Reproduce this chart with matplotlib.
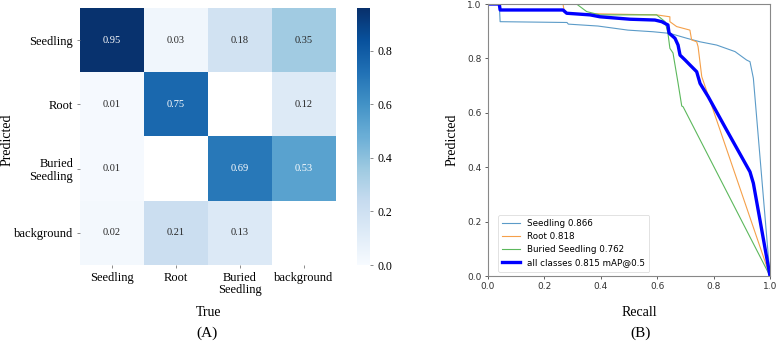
import numpy as np
import matplotlib
matplotlib.use("Agg")
import matplotlib.pyplot as plt

# ---------------- data ----------------
pred_labels = ["Seedling", "Root", "Buried\nSeedling", "background"]
true_labels = ["Seedling", "Root", "Buried\nSeedling", "background"]
row_seedling = [0.95, 0.03, 0.18, 0.35]
row_root = [0.01, 0.75, 0.00, 0.12]
row_buried = [0.01, 0.00, 0.69, 0.53]
row_background = [0.02, 0.21, 0.13, 0.00]

seedling_r = [0, 0.04, 0.043, 0.28, 0.285, 0.39, 0.496, 0.585, 0.645, 0.705, 0.752, 0.811, 0.876, 0.917, 0.929, 0.941, 1.0]
seedling_p = [1, 1, 0.935, 0.932, 0.926, 0.919, 0.904, 0.898, 0.892, 0.874, 0.861, 0.849, 0.825, 0.794, 0.788, 0.727, 0.0]
root_r = [0, 0.266, 0.27, 0.28, 0.598, 0.645, 0.645, 0.669, 0.716, 0.722, 0.74, 0.745, 0.758, 1.0]
root_p = [1, 1, 0.975, 0.966, 0.96, 0.953, 0.935, 0.917, 0.904, 0.868, 0.861, 0.843, 0.733, 0.0]
buried_r = [0, 0.314, 0.35, 0.397, 0.598, 0.628, 0.638, 0.645, 0.656, 0.674, 0.687, 0.692, 1.0]
buried_p = [1, 1, 0.972, 0.96, 0.96, 0.935, 0.893, 0.837, 0.82, 0.709, 0.625, 0.622, 0.0]
all_r = [0, 0.04, 0.043, 0.266, 0.279, 0.362, 0.397, 0.504, 0.592, 0.616, 0.638, 0.642, 0.663, 0.674,
         0.681, 0.699, 0.716, 0.74, 0.752, 0.781, 0.846, 0.929, 0.941, 1.0]
all_p = [1, 1, 0.978, 0.978, 0.966, 0.96, 0.953, 0.944, 0.941, 0.935, 0.923, 0.893, 0.874, 0.849,
         0.812, 0.794, 0.776, 0.751, 0.708, 0.659, 0.537, 0.383, 0.341, 0.0]
legend_labels = ["Seedling 0.866", "Root 0.818", "Buried Seedling 0.762", "all classes 0.815 mAP@0.5"]

serif = ["Liberation Serif", "DejaVu Serif"]
sans = ["DejaVu Sans"]

W, H = 779, 343
fig = plt.figure(figsize=(W / 100, H / 100), dpi=100)

def box(x0, y0, x1, y1):
    return [x0 / W, 1 - y1 / H, (x1 - x0) / W, (y1 - y0) / H]

# ---------------- (A) confusion matrix ----------------
ax1 = fig.add_axes(box(80, 8, 336, 265))
cax = fig.add_axes(box(357, 8, 370, 265))
mat = np.array([row_seedling, row_root, row_buried, row_background])
masked = np.ma.masked_less(mat, 0.005)
cmap = plt.get_cmap("Blues").copy()
cmap.set_bad("white")
vmax = 0.96
im = ax1.imshow(masked, cmap=cmap, vmin=0, vmax=vmax, aspect="auto", interpolation="nearest")
for i in range(mat.shape[0]):
    for j in range(mat.shape[1]):
        v = mat[i, j]
        if v >= 0.005:
            ax1.text(j, i, f"{v:.2f}", ha="center", va="center", fontsize=7.5,
                     family=serif, color="white" if v > 0.45 else "#262626")
ax1.set_xticks(range(len(true_labels)))
ax1.set_xticklabels(true_labels, family=serif, fontsize=9, linespacing=1.05)
ax1.set_yticks(range(len(pred_labels)))
ax1.set_yticklabels(pred_labels, family=serif, fontsize=9, linespacing=1.05)
ax1.tick_params(length=2, width=0.6, color="#777777", pad=3)
for s in ax1.spines.values():
    s.set_visible(False)
cb = fig.colorbar(im, cax=cax)
cb.set_ticks([0.0, 0.2, 0.4, 0.6, 0.8])
cb.ax.tick_params(length=2, width=0.6, color="#777777", labelsize=8.5)
for t in cb.ax.get_yticklabels():
    t.set_family(serif)
cb.outline.set_visible(False)

fig.text(209 / W, 1 - 313 / H, "True", ha="center", va="center", family=serif, fontsize=10)
fig.text(207 / W, 1 - 333 / H, "(A)", ha="center", va="center", family=serif, fontsize=11)
fig.text(7 / W, 1 - 140 / H, "Predicted", ha="center", va="center", rotation=90,
         family=serif, fontsize=10)

# ---------------- (B) PR curve ----------------
ax2 = fig.add_axes(box(488, 4, 770, 276))
ax2.plot(seedling_r, seedling_p, color="#5b9bc8", lw=0.8, label=legend_labels[0])
ax2.plot(root_r, root_p, color="#f5a04a", lw=0.8, label=legend_labels[1])
ax2.plot(buried_r, buried_p, color="#5cb85c", lw=0.8, label=legend_labels[2])
ax2.plot(all_r, all_p, color="blue", lw=2.4, label=legend_labels[3])
ax2.set_xlim(0, 1)
ax2.set_ylim(0, 1)
ax2.set_xticks([0, 0.2, 0.4, 0.6, 0.8, 1.0])
ax2.set_yticks([0, 0.2, 0.4, 0.6, 0.8, 1.0])
ax2.tick_params(labelsize=6.5, length=2.5, width=0.6, color="#444444", labelcolor="#333333", pad=2)
for t in ax2.get_xticklabels() + ax2.get_yticklabels():
    t.set_family(sans)
for s in ax2.spines.values():
    s.set_color("#888888")
    s.set_linewidth(0.8)
leg = ax2.legend(loc="lower left", prop={"family": sans, "size": 6.3}, frameon=True,
                 handlelength=2.0, borderpad=0.5, labelspacing=0.45, fancybox=True,
                 bbox_to_anchor=(0.02, 0.0))
leg.get_frame().set_linewidth(0.5)

fig.text(639 / W, 1 - 313 / H, "Recall", ha="center", va="center", family=serif, fontsize=10)
fig.text(641 / W, 1 - 333 / H, "(B)", ha="center", va="center", family=serif, fontsize=11)
fig.text(452 / W, 1 - 140 / H, "Predicted", ha="center", va="center", rotation=90,
         family=serif, fontsize=10)

fig.savefig("out.png", dpi=100)
